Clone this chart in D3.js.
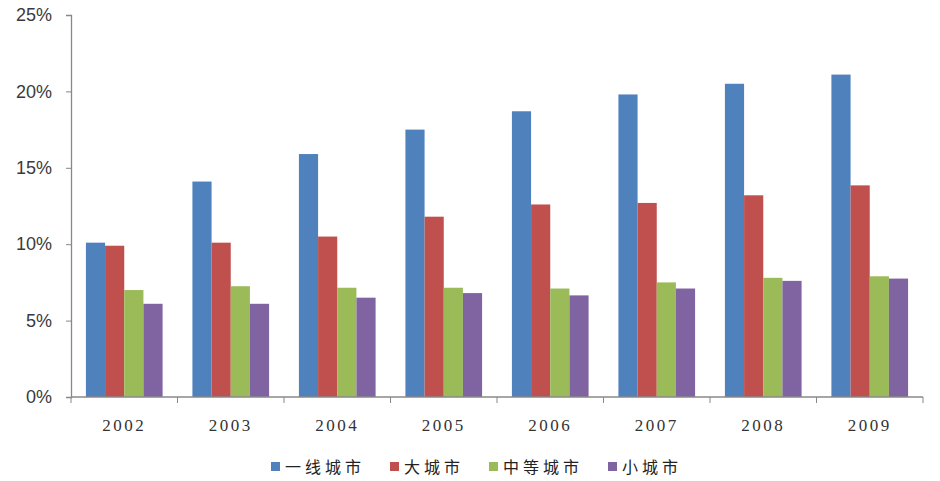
<!DOCTYPE html>
<html>
<head>
<meta charset="utf-8">
<script src="https://cdn.jsdelivr.net/npm/d3@7/dist/d3.min.js"></script>
<style>
	html, body { margin: 0; padding: 0; background: #fff; }
</style>
</head>
<body>
<div id="chart"></div>
<script>
const years = ['2002', '2003', '2004', '2005', '2006', '2007', '2008', '2009'];
const seriesNames = ['一线城市', '大城市', '中等城市', '小城市'];
const tier1 = [10.1, 14.1, 15.9, 17.5, 18.7, 19.8, 20.5, 21.1];
const bigCity = [9.9, 10.1, 10.5, 11.8, 12.6, 12.7, 13.2, 13.85];
const midCity = [7.0, 7.25, 7.15, 7.15, 7.1, 7.5, 7.8, 7.9];
const smallCity = [6.1, 6.1, 6.5, 6.8, 6.65, 7.1, 7.6, 7.75];
const yTicks = [0, 5, 10, 15, 20, 25];

const colors = ['#4f81bd', '#c0504d', '#9bbb59', '#8064a2'];
const seriesValues = [tier1, bigCity, midCity, smallCity];

const W = 940, H = 481;
const M = { left: 71, right: 17, top: 15, bottom: 84 };
const chartW = W - M.left - M.right;
const chartH = H - M.top - M.bottom;

const svg = d3.select('#chart').append('svg')
	.attr('width', W)
	.attr('height', H);

const g = svg.append('g')
	.attr('transform', `translate(${M.left},${M.top})`);

const x0 = d3.scaleBand().domain(years).range([0, chartW]).paddingInner(0.28).paddingOuter(0.14);
const x1 = d3.scaleBand().domain(d3.range(seriesNames.length)).range([0, x0.bandwidth()]);
const y = d3.scaleLinear().domain([0, 25]).range([chartH, 0]);

// bars
years.forEach(function(yr, i) {
	const grp = g.append('g').attr('transform', `translate(${x0(yr)},0)`);
	seriesValues.forEach(function(vals, s) {
		grp.append('rect')
			.attr('x', x1(s))
			.attr('y', y(vals[i]))
			.attr('width', x1.bandwidth())
			.attr('height', chartH - y(vals[i]))
			.attr('fill', colors[s]);
	});
});

// y axis
const axisY = d3.axisLeft(y).tickValues(yTicks).tickSize(5).tickFormat(d => d + '%');
const gy = g.append('g').call(axisY);
gy.select('.domain').attr('stroke', '#888').attr('stroke-width', 1.3);
gy.selectAll('.tick line').attr('stroke', '#888');
gy.selectAll('.tick text')
	.attr('x', -19)
	.style('font-family', '"Liberation Sans", Arial, sans-serif')
	.style('font-size', '18px')
	.attr('fill', '#3a3a3a');

// x axis with ticks at category boundaries
const bounds = d3.range(years.length + 1).map(i => i * chartW / years.length);
const gx = g.append('g').attr('transform', `translate(0,${chartH})`);
gx.append('line')
	.attr('x1', 0).attr('x2', chartW)
	.attr('stroke', '#888').attr('stroke-width', 1.3);
gx.selectAll('line.tk').data(bounds).enter().append('line')
	.attr('class', 'tk')
	.attr('x1', d => d).attr('x2', d => d)
	.attr('y1', 0).attr('y2', 6)
	.attr('stroke', '#888');
gx.selectAll('text').data(years).enter().append('text')
	.attr('x', d => x0(d) + x0.bandwidth() / 2)
	.attr('y', 34)
	.attr('text-anchor', 'middle')
	.style('font-family', '"Liberation Serif", "Times New Roman", serif')
	.style('font-size', '17px')
	.style('letter-spacing', '2.5px')
	.attr('fill', '#333')
	.text(d => d);

// legend
const legendX = [271, 390, 489, 608];
const legend = svg.append('g').attr('transform', 'translate(0,467)');
seriesNames.forEach(function(name, s) {
	legend.append('rect')
		.attr('x', legendX[s]).attr('y', -5)
		.attr('width', 9).attr('height', 9)
		.attr('fill', colors[s]);
	legend.append('text')
		.attr('x', legendX[s] + 14)
		.attr('y', 6)
		.style('font-family', '"Noto Sans CJK SC", sans-serif')
		.style('font-size', '16px')
		.style('letter-spacing', '4px')
		.attr('fill', '#222')
		.text(name);
});
</script>
</body>
</html>
